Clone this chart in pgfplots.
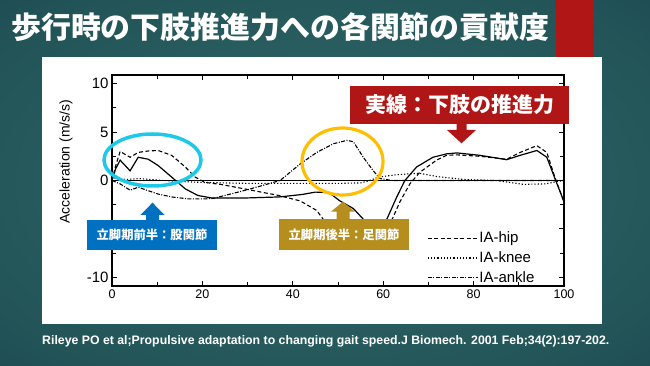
\documentclass[border=0pt]{standalone}
\usepackage{pgfplots}
\pgfplotsset{compat=1.18}
\usepackage{fontspec}
\setmainfont{Liberation Sans}
\newfontfamily\cjk{Noto Sans CJK JP}
\definecolor{bgc}{RGB}{50,106,104}
\definecolor{bgm}{RGB}{34,84,88}
\definecolor{bge}{RGB}{17,52,64}
\definecolor{cyanring}{RGB}{30,200,235}
\definecolor{goldring}{RGB}{255,190,0}
\definecolor{boxblue}{RGB}{0,112,192}
\definecolor{boxgold}{RGB}{182,142,30}
\definecolor{boxred}{RGB}{176,22,22}
\pgfdeclareradialshading{bgshade}{\pgfpoint{0bp}{0bp}}{color(0bp)=(bgc); color(30bp)=(bgm); color(62bp)=(bge); color(70bp)=(bge)}
\begin{document}
\begin{tikzpicture}[x=1pt,y=1pt]
\useasboundingbox (0,0) rectangle (650,366);
\shade[shading=bgshade] (0,0) rectangle (650,366);
% red block top right
\fill[boxred] (556,309) rectangle (594,366);
% white panel
\fill[white] (42,42) rectangle (602,309);
% title
\node[anchor=west, text=white, inner sep=0pt] at (11,339) {\cjk\bfseries\fontsize{29.9}{30}\selectfont 歩行時の下肢推進力への各関節の貢献度};
% citation
\node[anchor=west, text=white, inner sep=0pt] at (42,25) {\bfseries\fontsize{12.3}{13}\selectfont Rileye PO et al;Propulsive adaptation to changing gait speed.J Biomech. 2001 Feb;34(2):197-202.};

\begin{axis}[
  at={(112pt,80pt)}, anchor=south west,
  width=452pt, height=211pt, scale only axis,
  xmin=0, xmax=100, ymin=-10.9, ymax=10.9,
  xtick={0,20,...,100}, minor xtick={10,30,...,90},
  ytick={-10,-5,0,5,10}, yticklabels={-10,,0,5,10}, minor ytick={-7.5,-2.5,2.5,7.5},
  tick align=inside, major tick length=5pt, minor tick length=4pt,
  every tick/.style={black, line width=0.9pt},
  axis line style={black, line width=1.1pt},
  /pgf/number format/assume math mode=true,
  xticklabel style={font=\fontsize{12.5}{13}\selectfont, yshift=0pt},
  yticklabel style={font=\fontsize{15}{15}\selectfont},
  ylabel={Acceleration (m/s/s)},
  every axis y label/.style={at={(axis description cs:-0.102,0.59)}, rotate=90, anchor=center, font=\fontsize{14}{14}\selectfont},
  legend image code/.code={\draw[#1] (0pt,0pt) -- (50pt,0pt);},
  legend style={draw=none, fill=none, at={(axis description cs:0.697,0.262)}, anchor=north west,
    font=\fontsize{15}{15}\selectfont, row sep=5.5pt, inner sep=0pt,
    nodes={inner sep=1pt}},
  legend cell align=left,
]
\addplot[black, line width=0.8pt, forget plot] coordinates {(0,0) (100,0)};
% total (solid)
\addplot[black, line width=1.2pt, forget plot] coordinates {
(0,0) (0.8,1.2) (1.8,2.1) (4,1.0) (5.8,2.4) (8,2.2) (10.2,1.55) (13.2,0.35) (16.2,-0.86) (19,-1.55) (22,-1.8) (30,-1.8) (37,-1.7) (42,-1.45) (45,-1.2) (48,-1.25) (50.4,-2.1) (53.4,-2.9) (55.6,-4.0) (57.5,-5.0) (59,-5.2) (60.8,-4.0) (63,-1.7) (64.8,0) (67.4,1.4) (71,2.4) (74,2.75) (76.3,2.85) (81.4,2.6) (87.3,2.15) (90.3,2.6) (94,3.1) (96.2,2.4) (98,0.2) (100,-2.2)};
% hip (dashed)
\addplot[black, line width=1.1pt, dash pattern=on 4pt off 2.5pt] coordinates {
(0,0) (0.8,1.5) (1.8,3.0) (4,2.4) (5.8,2.9) (8,3.05) (10.2,3.1) (13.2,2.6) (16.2,1.4) (18.4,0.35) (20.6,-0.2) (24,-0.4) (28,-0.75) (33,-1.2) (36.4,-1.5) (41.6,-2.1) (45.3,-3.1) (46.7,-4.0) (49,-5.0) (52,-5.8) (55,-6.2) (58,-5.9) (60.5,-5.0) (61.9,-4.1) (63.7,-2.2) (65.9,-0.35) (68.1,0.85) (71.8,2.1) (74,2.6) (76.3,2.65) (81.4,2.5) (87.3,2.2) (90.3,2.9) (94,3.6) (96.2,2.9) (98,0.3) (100,-2.2)};
\addlegendentry{IA-hip}
% knee (dotted)
\addplot[black, line width=1.1pt, dash pattern=on 1.2pt off 2pt] coordinates {
(0,0) (1,0.3) (3,0.1) (6,0.2) (10,0.05) (15,-0.1) (20,-0.2) (30,-0.3) (40,-0.3) (50,-0.3) (55,-0.25) (57,0) (59,0.35) (63,0.6) (68,0.75) (72,0.4) (78,0.1) (85,0) (88,-0.2) (91,-0.4) (96,-0.35) (98.5,-0.1) (100,0)};
\addlegendentry{IA-knee}
% ankle (dash-dot)
\addplot[black, line width=1.1pt, dash pattern=on 4pt off 1.5pt on 1pt off 1.5pt] coordinates {
(0,0) (1.8,-0.35) (4,-1.0) (5.8,-0.7) (10.2,-1.4) (13.2,-1.7) (16.9,-1.9) (20.6,-1.9) (22.4,-1.85) (30,-0.95) (37.2,0) (41.6,1.7) (45.3,2.9) (49,3.8) (52,4.15) (53.4,4.0) (55.6,2.4) (57.8,1.0) (59.3,0.2) (62,0) (100,0)};
\addlegendentry{IA-ankle}
\end{axis}

% annotations (pixel coords, y flipped)
\draw[cyanring, line width=3.5pt] (152.5,206) ellipse [x radius=48.5, y radius=26];
\draw[goldring, line width=3.2pt] (342.5,204.5) ellipse [x radius=40.5, y radius=33.5];
% blue arrow + box
\fill[boxblue] (152.5,163.3) -- (164.5,151) -- (159,151) -- (159,146) -- (146,146) -- (146,151) -- (140.5,151) -- cycle;
\fill[boxblue] (87,115.5) rectangle (217,146);
\node[text=white, inner sep=0pt] at (152,131) {\cjk\bfseries\fontsize{12.3}{13}\selectfont 立脚期前半：股関節};
% gold arrow + box
\fill[boxgold] (343,164.3) -- (355,154.3) -- (349.5,154.3) -- (349.5,147) -- (336.5,147) -- (336.5,154.3) -- (331,154.3) -- cycle;
\fill[boxgold] (279,116) rectangle (409,147);
\node[text=white, inner sep=0pt] at (344,131.5) {\cjk\bfseries\fontsize{12.3}{13}\selectfont 立脚期後半：足関節};
% red box + arrow
\fill[boxred] (350,242) rectangle (569,280);
\node[text=white, inner sep=0pt] at (460,261) {\cjk\bfseries\fontsize{21}{22}\selectfont 実線：下肢の推進力};
\fill[boxred] (456.5,242.5) -- (456.5,236) -- (447,236) -- (461.5,222.7) -- (476,236) -- (466.5,236) -- (466.5,242.5) -- cycle;
\end{tikzpicture}
\end{document}
